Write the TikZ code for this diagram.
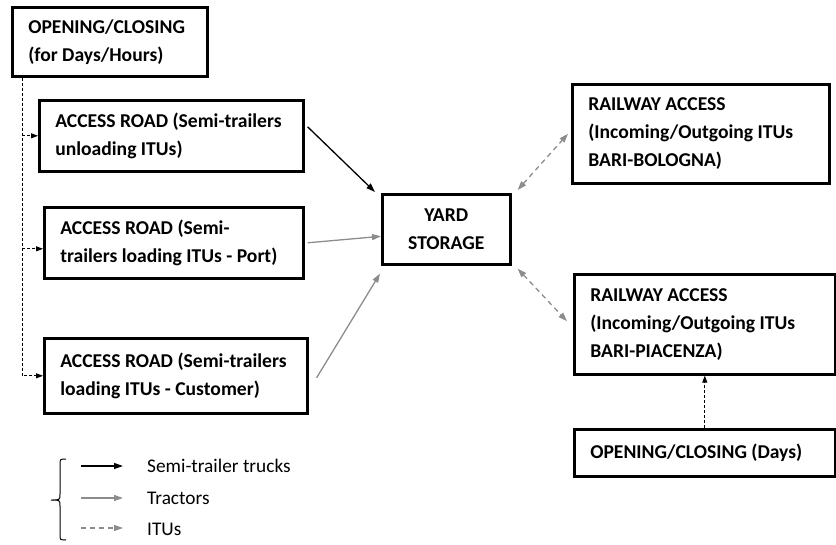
\documentclass[tikz,border=0pt]{standalone}
\usepackage{fontspec}
\setmainfont{Carlito}
\usetikzlibrary{arrows.meta}

\definecolor{tracgray}{HTML}{8C8C8C}

\begin{document}
\begin{tikzpicture}[x=1pt,y=-1pt,
  box/.style={draw=black, line width=2.6pt, fill=white, anchor=north west, align=flush left, inner xsep=16pt, inner ysep=0pt, font=\bfseries\fontsize{19.6}{28}\selectfont},
  legtext/.style={anchor=west, inner sep=0pt, font=\fontsize{19.3}{28}\selectfont},
  truck/.style={draw=black, line width=1.3pt, -{Triangle[length=9pt,width=6pt]}},
  tractor/.style={draw=tracgray, line width=1.3pt, -{Triangle[length=9pt,width=6pt]}},
  itu/.style={draw=tracgray, line width=1.3pt, dash pattern=on 5pt off 4pt},
  ctrl/.style={draw=black, line width=0.9pt, dash pattern=on 3pt off 2pt}]
\useasboundingbox (0,0) rectangle (836,544);

\node[box, text width=163pt, minimum height=69pt] (open1) at (11,6) {OPENING/CLOSING\\(for Days/Hours)};
\node[box, text width=232pt, minimum height=71pt] (road1) at (38,99) {ACCESS ROAD (Semi-trailers\\unloading ITUs)};
\node[box, text width=227pt, minimum height=71pt] (road2) at (43,206) {ACCESS ROAD (Semi-\\trailers loading ITUs - Port)};
\node[box, text width=231pt, minimum height=75pt] (road3) at (43,337) {ACCESS ROAD (Semi-trailers\\loading ITUs - Customer)};
\node[box, text width=96pt, minimum height=70pt, align=center] (yard) at (381,193) {YARD\\STORAGE};
\node[box, text width=225pt, minimum height=99pt] (rail1) at (571,83) {RAILWAY ACCESS\\(Incoming/Outgoing ITUs\\BARI-BOLOGNA)};
\node[box, text width=229pt, minimum height=100pt] (rail2) at (573,273) {RAILWAY ACCESS\\(Incoming/Outgoing ITUs\\BARI-PIACENZA)};
\node[box, text width=229pt, minimum height=47pt] (open2) at (573,428) {OPENING/CLOSING~(Days)};

% opening/closing -> access roads
\coordinate (trunk) at ([xshift=11pt]open1.south west);
\coordinate (r2in) at ([yshift=-6pt]road2.west);
\draw[ctrl, -{Triangle[length=7pt,width=5pt]}] (trunk) |- (road3.west);
\draw[ctrl, -{Triangle[length=7pt,width=5pt]}] (trunk |- road1.west) -- (road1.west);
\draw[ctrl, -{Triangle[length=7pt,width=5pt]}] (trunk |- r2in) -- (r2in);
\draw[ctrl, -{Triangle[length=7pt,width=5pt]}] (open2.north) -- (rail2.south);

% roads -> yard
\draw[truck] ([shift={(3pt,9pt)}]road1.east) -- ([shift={(-6pt,1pt)}]yard.north west);
\draw[tractor] ([xshift=3pt]road2.east) -- ([yshift=-7pt]yard.west);
\draw[tractor] ([shift={(8pt,-2pt)}]road3.east) -- ([shift={(-1pt,-8pt)}]yard.south west);

% yard <-> railway
\draw[itu, {Triangle[length=9pt,width=6pt]}-{Triangle[length=9pt,width=6pt]}] ([shift={(6pt,3pt)}]yard.north east) -- ([xshift=-3pt]rail1.west);
\draw[itu, {Triangle[length=9pt,width=6pt]}-{Triangle[length=9pt,width=6pt]}] ([shift={(6pt,-3pt)}]yard.south east) -- ([shift={(-6pt,3pt)}]rail2.west);

% legend
\draw[line width=1pt] (66,459) .. controls (60,459) .. (60,465) -- (60,494)
  .. controls (60,500) .. (51,500) .. controls (60,500) .. (60,506) -- (60,534)
  .. controls (60,540) .. (66,540);
\node[legtext] (leg1) at (147,466) {Semi-trailer trucks};
\node[legtext] (leg2) at (147,498) {Tractors};
\node[legtext] (leg3) at (147,529) {ITUs};
\coordinate (a1) at (81,466);
\coordinate (a2) at (81,498);
\coordinate (a3) at (81,528);
\draw[truck] (a1) -- +(42,0);
\draw[tractor] (a2) -- +(42,0);
\draw[itu, -{Triangle[length=9pt,width=6pt]}] (a3) -- +(42,0);
\end{tikzpicture}
\end{document}
